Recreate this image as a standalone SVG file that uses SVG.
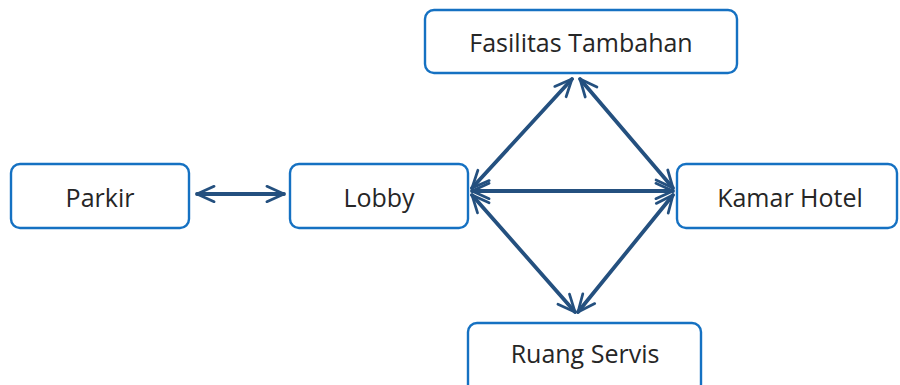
<svg xmlns="http://www.w3.org/2000/svg" width="900" height="385" viewBox="0 0 900 385">
  <defs>
    <style>
      .box { fill: #ffffff; stroke: #1571c2; stroke-width: 2.4; }
      .label { font-family: "Open Sans", "Liberation Sans", sans-serif; font-size: 25px; fill: #262626; text-anchor: middle; }
      .link { stroke: #24507f; stroke-width: 3.8; fill: none; stroke-linecap: round; marker-start: url(#head); marker-end: url(#head); }
    </style>
    <marker id="head" viewBox="0 0 12 12" refX="11" refY="6" markerWidth="5.4" markerHeight="5.4" orient="auto-start-reverse" markerUnits="strokeWidth">
      <path d="M1,1.5 L11,6 L1,10.5" fill="none" stroke="#24507f" stroke-width="1.6" stroke-linecap="round" stroke-linejoin="round"/>
    </marker>
  </defs>

  <rect width="900" height="385" fill="#ffffff"/>

  <g id="connectors">
    <line class="link" x1="197" y1="194" x2="284" y2="194"/>
    <line class="link" x1="472" y1="191" x2="673" y2="191"/>
    <line class="link" x1="472" y1="188" x2="572" y2="79"/>
    <line class="link" x1="673" y1="188" x2="580" y2="79"/>
    <line class="link" x1="472" y1="195" x2="575" y2="312"/>
    <line class="link" x1="673" y1="195" x2="578" y2="312"/>
  </g>

  <g id="parkir">
    <rect class="box" x="11" y="164" width="178" height="64" rx="9"/>
    <text class="label" x="100" y="207">Parkir</text>
  </g>
  <g id="lobby">
    <rect class="box" x="290" y="164" width="178" height="64" rx="9"/>
    <text class="label" x="379" y="207">Lobby</text>
  </g>
  <g id="fasilitas-tambahan">
    <rect class="box" x="425" y="10" width="312" height="63" rx="9"/>
    <text class="label" x="581" y="52">Fasilitas Tambahan</text>
  </g>
  <g id="kamar-hotel">
    <rect class="box" x="677" y="164" width="220" height="64" rx="9"/>
    <text class="label" x="790" y="207">Kamar Hotel</text>
  </g>
  <g id="ruang-servis">
    <rect class="box" x="468" y="323" width="233" height="70" rx="9"/>
    <text class="label" x="585" y="363">Ruang Servis</text>
  </g>
</svg>
